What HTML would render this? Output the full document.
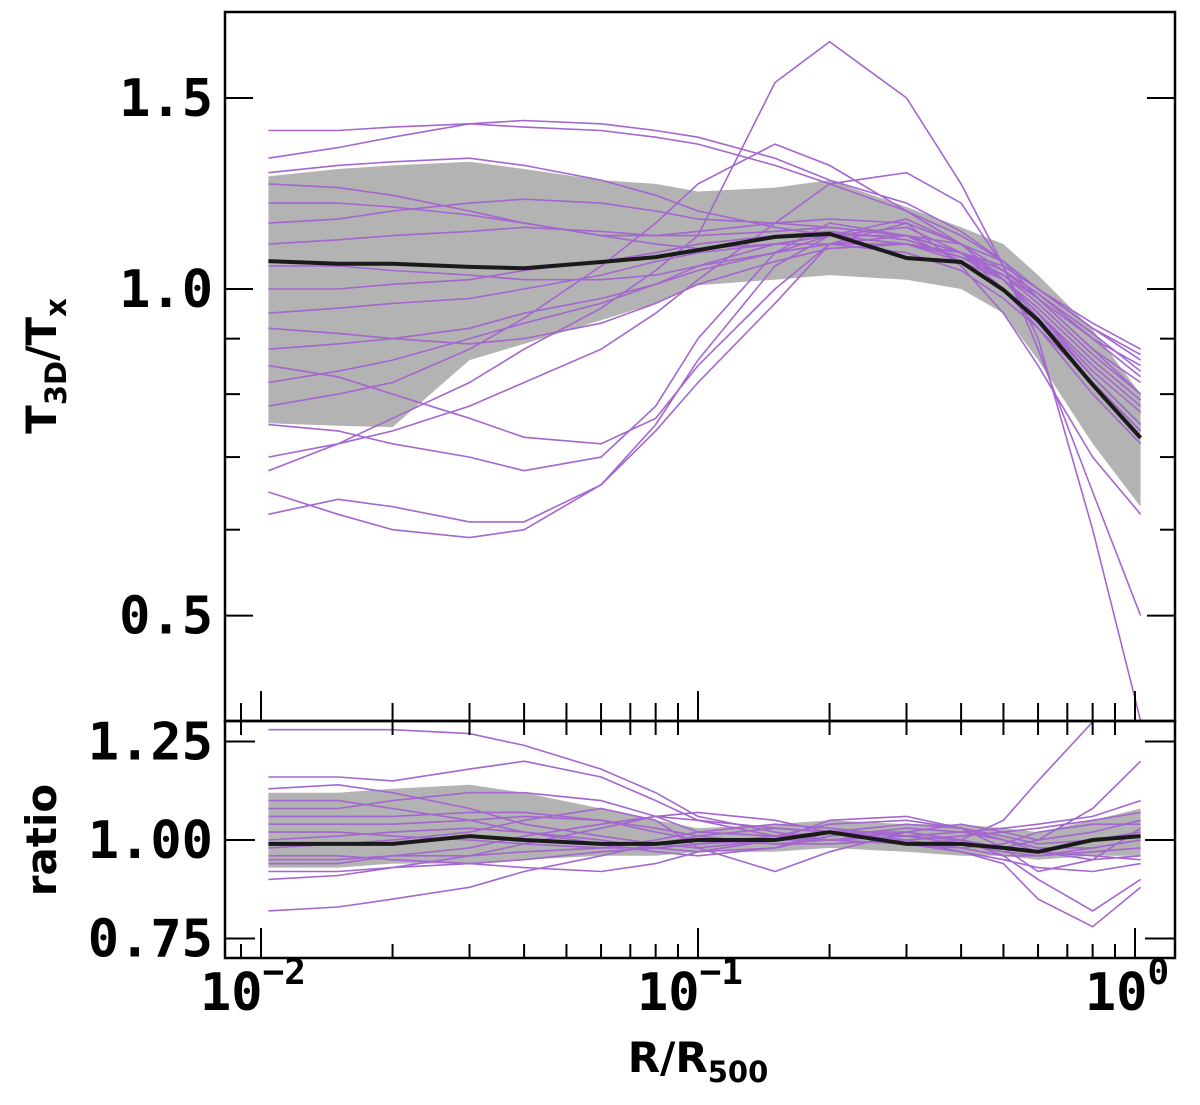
<!DOCTYPE html>
<html><head><meta charset="utf-8">
<style>
html,body{margin:0;padding:0;background:#fff;}
svg{display:block;}
.tl{font-family:"DejaVu Sans Mono","Liberation Mono",monospace;font-weight:bold;font-size:52px;fill:#000;}
.tt{font-family:"DejaVu Sans","Liberation Sans",sans-serif;font-weight:bold;font-size:42px;fill:#000;}
</style></head>
<body>
<svg id="chart" width="1200" height="1105" viewBox="0 0 1200 1105" xmlns="http://www.w3.org/2000/svg">
<defs>
<clipPath id="ctop"><rect x="225" y="12" width="950" height="709"/></clipPath>
<clipPath id="cbot"><rect x="225" y="721" width="950" height="237"/></clipPath>
</defs>
<g id="topg" clip-path="url(#ctop)"></g>
<g id="botg" clip-path="url(#cbot)"></g>
<g id="axes"></g>
<text class="tt" transform="translate(56,366) rotate(-90)" text-anchor="middle">T<tspan font-size="29" dy="10">3D</tspan><tspan dy="-10">/T</tspan><tspan font-size="29" dy="10">x</tspan></text>
<text class="tt" transform="translate(56,840) rotate(-90)" text-anchor="middle">ratio</text>
<text class="tt" x="698" y="1072" text-anchor="middle">R/R<tspan font-size="29" dy="10">500</tspan></text>
</svg>
<script>
const R = [0.0104,0.015,0.02,0.03,0.04,0.06,0.08,0.1,0.15,0.2,0.3,0.4,0.5,0.6,0.8,1.03];
const medianTop = [1.061,1.055,1.055,1.048,1.045,1.059,1.07,1.086,1.117,1.124,1.068,1.059,0.998,0.936,0.816,0.729];
const bandTopUpper = [1.27,1.29,1.30,1.31,1.29,1.26,1.25,1.23,1.24,1.26,1.19,1.14,1.10,1.03,0.917,0.80];
const bandTopLower = [0.752,0.748,0.746,0.86,0.89,0.936,0.97,1.008,1.02,1.03,1.02,1.0,0.95,0.86,0.72,0.63];
const seriesTop = [
[1.40,1.40,1.41,1.42,1.41,1.40,1.38,1.36,1.30,1.25,1.18,1.12,1.06,1.00,0.92,0.87],
[1.32,1.35,1.38,1.42,1.43,1.42,1.40,1.38,1.32,1.26,1.20,1.13,1.06,0.98,0.88,0.82],
[0.68,0.72,0.76,0.82,0.88,0.96,1.04,1.12,1.55,1.69,1.50,1.25,1.05,0.90,0.60,0.40],
[0.62,0.64,0.63,0.61,0.61,0.66,0.74,0.82,0.97,1.10,1.15,1.05,0.95,0.85,0.70,0.62],
[0.65,0.62,0.60,0.59,0.60,0.66,0.75,0.86,1.05,1.12,1.14,1.08,1.00,0.92,0.80,0.72],
[0.75,0.74,0.72,0.70,0.68,0.70,0.78,0.90,1.08,1.15,1.12,1.08,1.02,0.95,0.84,0.77],
[0.78,0.80,0.82,0.88,0.94,1.05,1.15,1.25,1.36,1.30,1.18,1.10,1.02,0.95,0.83,0.75],
[1.25,1.24,1.22,1.18,1.15,1.12,1.12,1.13,1.15,1.16,1.15,1.10,1.04,0.98,0.88,0.80],
[1.10,1.11,1.12,1.13,1.14,1.13,1.12,1.12,1.13,1.14,1.12,1.08,1.03,0.97,0.87,0.80],
[1.00,1.00,1.01,1.02,1.04,1.06,1.08,1.10,1.12,1.13,1.11,1.07,1.02,0.95,0.85,0.78],
[0.95,0.96,0.97,0.98,1.00,1.03,1.06,1.08,1.10,1.10,1.08,1.04,0.98,0.92,0.82,0.74],
[0.88,0.89,0.90,0.92,0.95,0.98,1.01,1.04,1.08,1.12,1.16,1.10,1.02,0.94,0.83,0.75],
[0.82,0.84,0.86,0.90,0.93,0.97,1.01,1.05,1.10,1.12,1.10,1.07,1.03,0.98,0.90,0.85],
[1.20,1.20,1.19,1.17,1.15,1.12,1.10,1.09,1.10,1.12,1.12,1.10,1.06,1.00,0.92,0.86],
[1.05,1.05,1.04,1.03,1.02,1.02,1.03,1.05,1.08,1.10,1.10,1.08,1.05,1.00,0.93,0.88],
[0.70,0.72,0.74,0.78,0.82,0.88,0.95,1.02,1.15,1.25,1.28,1.20,1.05,0.88,0.65,0.50],
[1.28,1.30,1.31,1.32,1.30,1.26,1.22,1.18,1.14,1.12,1.10,1.06,1.02,0.96,0.86,0.79],
[0.92,0.91,0.90,0.89,0.90,0.93,0.97,1.01,1.06,1.09,1.10,1.08,1.04,0.99,0.91,0.84],
[1.15,1.16,1.18,1.20,1.21,1.20,1.18,1.16,1.15,1.14,1.12,1.08,1.04,0.99,0.90,0.83],
[0.85,0.83,0.80,0.76,0.73,0.72,0.76,0.85,1.00,1.10,1.12,1.06,1.00,0.93,0.82,0.74]
];
const medianBot = [0.99,0.99,0.99,1.01,1.00,0.99,0.99,1.00,1.00,1.02,0.99,0.99,0.98,0.97,1.00,1.01];
const bandBotUpper = [1.12,1.12,1.13,1.14,1.12,1.08,1.05,1.03,1.04,1.05,1.04,1.04,1.03,1.02,1.05,1.08];
const bandBotLower = [0.93,0.93,0.94,0.94,0.95,0.96,0.96,0.97,0.97,0.98,0.97,0.96,0.96,0.95,0.96,0.96];
const seriesBot = [
[1.28,1.28,1.28,1.27,1.24,1.18,1.12,1.06,1.02,1.00,0.99,1.00,1.05,1.15,1.30,1.40],
[1.16,1.16,1.15,1.18,1.20,1.16,1.10,1.05,1.01,1.00,1.02,1.00,0.96,0.90,0.82,0.90],
[0.82,0.83,0.85,0.88,0.92,0.96,0.99,1.01,1.03,1.02,1.00,0.97,0.94,0.85,0.78,0.88],
[1.13,1.14,1.12,1.08,1.04,1.01,0.99,0.98,1.00,1.05,1.06,1.03,0.98,0.92,0.95,1.03],
[1.08,1.08,1.10,1.12,1.12,1.10,1.06,1.02,1.01,1.02,1.02,1.00,0.98,1.00,1.08,1.20],
[0.94,0.94,0.96,0.98,1.01,1.04,1.06,1.05,1.03,1.02,1.00,0.98,0.96,0.96,0.98,1.00],
[1.04,1.04,1.04,1.05,1.06,1.05,1.03,1.01,0.99,1.00,1.01,1.02,1.03,1.04,1.06,1.10],
[0.96,0.96,0.95,0.94,0.93,0.92,0.94,0.97,1.00,1.02,1.01,1.00,0.98,0.97,0.96,0.95],
[1.00,1.01,1.02,1.03,1.02,1.00,0.98,0.97,0.98,1.01,1.03,1.02,1.00,0.98,0.98,1.00],
[0.92,0.92,0.93,0.94,0.95,0.97,0.98,0.99,1.00,1.00,0.99,0.98,0.99,1.02,1.04,1.04],
[1.10,1.10,1.08,1.05,1.02,0.99,0.97,0.96,0.98,1.02,1.04,1.03,1.01,0.99,1.00,1.02],
[0.98,0.99,1.00,1.02,1.05,1.08,1.05,0.98,0.92,0.97,1.02,1.04,1.02,1.00,1.02,1.05],
[1.02,1.02,1.01,1.00,0.99,0.98,0.98,0.99,1.01,1.04,1.05,1.03,1.00,0.97,0.95,0.96],
[0.95,0.95,0.96,0.96,0.97,0.98,1.00,1.02,1.04,1.03,1.01,0.99,0.97,0.96,0.97,0.98],
[1.06,1.06,1.06,1.07,1.07,1.05,1.02,1.00,0.99,0.99,1.00,1.01,1.02,1.03,1.05,1.07],
[0.90,0.91,0.93,0.96,0.99,1.03,1.06,1.07,1.05,1.02,0.99,0.97,0.95,0.93,0.92,0.94]
];
const yTopTicks = [1.5,1.0,0.5];
const yTopTickLabels = ["1.5","1.0","0.5"];
const yTopMinor = [0.9,0.8,0.7,0.6];
const yBotTicks = [1.25,1.0,0.75];
const yBotTickLabels = ["1.25","1.00","0.75"];
const xDecades = [-2,-1,0];

const X = r => 261 + 437*Math.log10(r/0.01);
const YT = v => 289 - 1085*Math.log10(v);
const YB = v => 840 - 394*(v-1);
const NS = "http://www.w3.org/2000/svg";
function mk(tag, attrs, parent){const e=document.createElementNS(NS,tag);for(const k in attrs)e.setAttribute(k,attrs[k]);parent.appendChild(e);return e;}
function pathD(xs, ys){return xs.map((x,i)=>(i?"L":"M")+x.toFixed(1)+","+ys[i].toFixed(1)).join("");}
function drawPanel(g, Y, upper, lower, series, median, prefix){
  const xs = R.map(X);
  const d = pathD(xs, upper.map(Y)) + pathD(xs.slice().reverse(), lower.map(Y).reverse()).replace("M","L") + "Z";
  const band = mk("path",{d:d,fill:"#b3b3b3",stroke:"none"},g);
  
  
  series.forEach((s,i)=>{
    const p = mk("path",{d:pathD(xs, s.map(Y)),fill:"none",stroke:"#a466cf","stroke-width":1.6},g);
    
    
  });
  const m = mk("path",{d:pathD(xs, median.map(Y)),fill:"none",stroke:"#1a1a1a","stroke-width":4},g);
  
  
}
drawPanel(document.getElementById("topg"), YT, bandTopUpper, bandTopLower, seriesTop, medianTop, "top");
drawPanel(document.getElementById("botg"), YB, bandBotUpper, bandBotLower, seriesBot, medianBot, "ratio");

const ax = document.getElementById("axes");
const L=225, Rr=1175, T1=12, B1=721, B2=958;
function ln(x1,y1,x2,y2,w){return mk("line",{x1:x1,y1:y1,x2:x2,y2:y2,stroke:"#000","stroke-width":w||2},ax);}
const f1 = mk("rect",{x:L,y:T1,width:Rr-L,height:B1-T1,fill:"none",stroke:"#000","stroke-width":2.5},ax);


const f2 = mk("rect",{x:L,y:B1,width:Rr-L,height:B2-B1,fill:"none",stroke:"#000","stroke-width":2.5},ax);


const xtickVals=[];
for(let d=-3; d<=0; d++){for(let k=1;k<=9;k++){const v=k*Math.pow(10,d);const x=X(v);if(x>L+2&&x<Rr-2)xtickVals.push([x,k===1]);}}
xtickVals.forEach(([x,maj])=>{
  const h = maj?30:14;
  ln(x,B1,x,B1-(maj?30:18)); ln(x,B1,x,B1+(maj?0:14));
  ln(x,B2,x,B2-h);
});
xDecades.forEach(d=>{
  const t = mk("text",{x:X(Math.pow(10,d))-8,y:1010,"text-anchor":"middle",class:"tl"},ax);
  
  
  t.textContent="10";
  const s = mk("tspan",{dy:-26,"font-size":36},t); s.textContent = d===0?"0":("\u2212"+(-d));
});
yTopTicks.forEach((v,i)=>{
  const y=YT(v); ln(L,y,L+28,y); ln(Rr,y,Rr-28,y);
  const t=mk("text",{x:213,y:y+18,"text-anchor":"end",class:"tl"},ax);
  
  
  t.textContent=yTopTickLabels[i];
});
yTopMinor.forEach(v=>{const y=YT(v); ln(L,y,L+15,y); ln(Rr,y,Rr-15,y);});
yBotTicks.forEach((v,i)=>{
  const y=YB(v); ln(L,y,L+30,y); ln(Rr,y,Rr-30,y);
  const t=mk("text",{x:213,y:y+18,"text-anchor":"end",class:"tl"},ax);
  
  
  t.textContent=yBotTickLabels[i];
});
</script>
</body></html>
